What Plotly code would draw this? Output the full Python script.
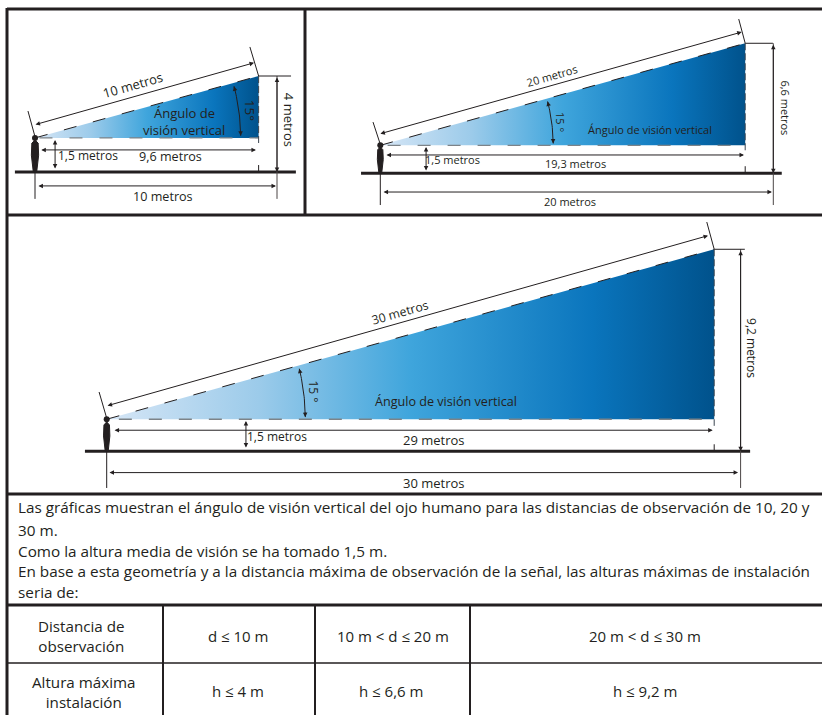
import math
import plotly.graph_objects as go

W, H = 822, 715
FONT = "Open Sans"
INK = "#231f20"

# --- diagram values, in metres, one entry per panel (10, 20 and 30 m) ---
EYE_HEIGHT = [1.42, 1.42, 1.46]
APEX_X = [9.24, 18.57, 28.75]
APEX_Y = [4.0, 6.6, 9.2]
GROUND_X0 = [-0.83, -0.98, -1.03]
GROUND_X1 = [10.78, 20.43, 30.45]
TOTAL_DIST = [10.0, 20.0, 30.0]
ARC_RADIUS = [8.5, 8.8, 9.4]
# sloped dimension line
SLOPE_START = [(-0.04, 1.96), (-0.07, 1.99), (-0.03, 2.06)]
SLOPE_END = [(9.05, 4.55), (18.39, 7.17), (28.46, 9.82)]
SLOPE_TICK0 = [(-0.29, 2.54), (-0.37, 2.60), (-0.36, 2.70)]
SLOPE_TICK1 = [(8.88, 5.21), (18.24, 7.83), (28.40, 10.44)]
# horizontal dimension lines: (height, from, to)
INNER_DIM = [(0.92, 0.20, 9.13), (0.93, 0.24, 18.51), (0.96, 0.30, 28.68)]
TOTAL_DIM = [(-0.58, 0.08, 9.96), (-0.95, 0.09, 19.93), (-0.97, 0.06, 29.88)]
# eye-height dimension line: (x, from, to)
EYE_DIM = [(0.83, 0.08, 1.33), (2.33, 0.07, 1.34), (6.59, 0.10, 1.38)]
DROP_BELOW = [-1.12, -1.61, -1.67]
TOP_EXT = [10.58, 19.98, 30.2]
DROP_GAP = [(1.08, 0.29), (1.18, 0.36), (1.05, 0.32)]

# panel scale: pixel position of the origin and pixels per metre
ORIGIN_X = [35.0, 380.3, 106.7]
GROUND_Y = [172.0, 173.3, 451.3]
PX_PER_M_X = [24.2, 19.65, 21.13]
PX_PER_M_Y = [24.0, 19.7, 21.96]

# silhouette relative to the eye, in metres
BODY_DX = [0.0, 0.13, 0.15, 0.07, -0.07, -0.15, -0.13, 0.0]
BODY_Y = [1.34, 1.20, 0.70, 0.0, 0.0, 0.70, 1.20, 1.34]

# text: (label, x, y, rotation, size)
LABELS = [
    [("10 metros", 4.05, 3.63, -16, 13), ("Ángulo de", 6.16, 2.46, 0, 13),
     ("visión vertical", 6.16, 1.75, 0, 13), ("15°", 8.9, 2.58, 90, 13.5),
     ("4 metros", 10.5, 2.17, 90, 13), ("1,5 metros", 2.19, 0.67, 0, 12),
     ("9,6 metros", 5.58, 0.63, 0, 12.6), ("10 metros", 5.29, -1.04, 0, 12.6)],
    [("20 metros", 8.74, 4.94, -16, 11), ("15 °", 9.2, 2.6, 90, 11),
     ("Ángulo de visión vertical", 13.73, 2.2, 0, 11), ("6,6 metros", 20.63, 3.31, 90, 11),
     ("1,5 metros", 3.68, 0.68, 0, 11), ("19,3 metros", 9.94, 0.52, 0, 11),
     ("20 metros", 9.65, -1.41, 0, 11)],
    [("30 metros", 13.88, 6.3, -16, 12.3), ("15 °", 9.78, 2.71, 90, 12),
     ("Ángulo de visión vertical", 16.06, 2.25, 0, 12.6), ("1,5 metros", 8.06, 0.66, 0, 12),
     ("29 metros", 15.49, 0.53, 0, 13), ("30 metros", 15.49, -1.44, 0, 13),
     ("9,2 metros", 30.54, 4.7, 90, 12)],
]

PARAGRAPH = [
    "Las gráficas muestran el ángulo de visión vertical del ojo humano para las distancias de observación de 10, 20 y",
    "30 m.",
    "Como la altura media de visión se ha tomado 1,5 m.",
    "En base a esta geometría y a la distancia máxima de observación de la señal, las alturas máximas de instalación",
    "seria de:",
]
ROW_HEADERS = ["Distancia de<br>observación", "Altura máxima<br>instalación"]
DISTANCE_ROW = ["d ≤ 10 m", "10 m < d ≤ 20 m", "20 m < d ≤ 30 m"]
HEIGHT_ROW = ["h ≤ 4 m", "h ≤ 6,6 m", "h ≤ 9,2 m"]

GRADIENT = [[0, "#d6e6f6"], [0.25, "#9ccbea"], [0.5, "#3fa5dc"], [0.8, "#0a75bd"], [1, "#00528c"]]

fig = go.Figure()
anns = []
shapes = []


def axis_names(i):
    s = "" if i == 0 else str(i + 1)
    return "x" + s, "y" + s


def line(i, xs, ys, color=INK, width=1.0, dash="solid"):
    xa, ya = axis_names(i)
    fig.add_trace(go.Scatter(x=xs, y=ys, xaxis=xa, yaxis=ya, mode="lines", hoverinfo="skip",
                             line=dict(color=color, width=width, dash=dash), showlegend=False))


def arrow(i, p0, p1, both=True, size=0.9):
    xa, ya = axis_names(i)
    anns.append(dict(x=p1[0], y=p1[1], ax=p0[0], ay=p0[1], xref=xa, yref=ya, axref=xa, ayref=ya,
                     text="", showarrow=True, arrowhead=2, startarrowhead=2, arrowwidth=1,
                     arrowsize=size, startarrowsize=size, arrowcolor=INK,
                     arrowside="end+start" if both else "end", standoff=0, startstandoff=0))


for i in range(3):
    xa, ya = axis_names(i)
    eye = EYE_HEIGHT[i]
    ax, ay = APEX_X[i], APEX_Y[i]
    # gradient wedge
    fig.add_trace(go.Scatter(x=[0, ax, ax, 0], y=[eye, ay, eye, eye], xaxis=xa, yaxis=ya, mode="lines",
                             line=dict(width=0), fill="toself", hoverinfo="skip", showlegend=False,
                             fillgradient=dict(type="horizontal", colorscale=GRADIENT)))
    line(i, [0, ax], [eye, ay], width=1, dash="13px,17px")
    line(i, [ax * 0.02, ax], [eye, eye], color="#7d8388", width=1.4, dash="13px,17px")
    line(i, [ax, ax], [ay, eye - 0.3], color="#3c4650", width=1, dash="7px,3px")
    line(i, [ax, ax], [DROP_GAP[i][1], 0], width=1)
    # ground
    line(i, [GROUND_X0[i], GROUND_X1[i]], [0, 0], width=3)
    # extension lines
    d = TOTAL_DIST[i]
    line(i, [0, 0], [0, DROP_BELOW[i]], width=1)
    line(i, [d, d], [ay, DROP_BELOW[i]], color="#4a4545", width=1)
    line(i, [ax, TOP_EXT[i]], [ay, ay], width=1)
    line(i, [SLOPE_TICK0[i][0], 0], [SLOPE_TICK0[i][1], eye + 0.05], width=1)
    line(i, [SLOPE_TICK1[i][0], ax], [SLOPE_TICK1[i][1], ay], width=1)
    # dimension arrows
    arrow(i, SLOPE_START[i], SLOPE_END[i])
    h, a, b = INNER_DIM[i]
    arrow(i, (a, h), (b, h))
    h, a, b = TOTAL_DIM[i]
    arrow(i, (a, h), (b, h))
    x, a, b = EYE_DIM[i]
    arrow(i, (x, a), (x, b))
    arrow(i, (d, ay), (d, 0))
    # 15 degree arc, drawn around the eye
    r = ARC_RADIUS[i]
    top = math.atan2(ay - eye, ax)
    n = 24
    angles = [top * (0.04 + 0.9 * k / n) for k in range(n + 1)]
    arc_x = [r * math.cos(t) for t in angles]
    arc_y = [eye + r * math.sin(t) for t in angles]
    line(i, arc_x, arc_y, width=1)
    arrow(i, (arc_x[3], arc_y[3]), (arc_x[0], arc_y[0]), both=False)
    arrow(i, (arc_x[-4], arc_y[-4]), (arc_x[-1], arc_y[-1]), both=False)
    # person
    fig.add_trace(go.Scatter(x=BODY_DX, y=BODY_Y, xaxis=xa, yaxis=ya, mode="lines", fill="toself",
                             fillcolor=INK, line=dict(color=INK, width=1), hoverinfo="skip",
                             showlegend=False))
    fig.add_trace(go.Scatter(x=[0], y=[eye], xaxis=xa, yaxis=ya, mode="markers", hoverinfo="skip",
                             marker=dict(color=INK, size=6), showlegend=False))
    # labels
    for text, x, y, rot, size in LABELS[i]:
        anns.append(dict(x=x, y=y, xref=xa, yref=ya, text=text, showarrow=False, textangle=rot,
                         font=dict(family=FONT, size=size, color=INK), xanchor="center", yanchor="middle"))

# panel axes: each covers the whole page in its own metres
layout_axes = {}
for i in range(3):
    s = "" if i == 0 else str(i + 1)
    xr = [(0 - ORIGIN_X[i]) / PX_PER_M_X[i], (W - ORIGIN_X[i]) / PX_PER_M_X[i]]
    yr = [(GROUND_Y[i] - H) / PX_PER_M_Y[i], GROUND_Y[i] / PX_PER_M_Y[i]]
    layout_axes["xaxis" + s] = dict(range=xr, domain=[0, 1], visible=False, fixedrange=True, anchor="y" + s)
    layout_axes["yaxis" + s] = dict(range=yr, domain=[0, 1], visible=False, fixedrange=True, anchor="x" + s)


def page_line(x0, y0, x1, y1, width):
    shapes.append(dict(type="line", xref="paper", yref="paper", x0=x0 / W, x1=x1 / W,
                       y0=1 - y0 / H, y1=1 - y1 / H, line=dict(color=INK, width=width)))


def page_text(text, x, y, size, anchor="center"):
    anns.append(dict(x=x / W, y=1 - y / H, xref="paper", yref="paper", text=text, showarrow=False,
                     xanchor=anchor, yanchor="middle", align=anchor,
                     font=dict(family=FONT, size=size, color=INK)))


# frames
page_line(7, 9, W, 9, 3)
page_line(7, 8, 7, H, 3)
page_line(305, 9, 305, 215, 3)
page_line(7, 215, W, 215, 3)
page_line(7, 494, W, 494, 3)
page_line(7, 605, W, 605, 3)
page_line(7, 663, W, 663, 1.5)
page_line(163, 605, 163, H, 2)
page_line(315, 605, 315, H, 2)
page_line(470, 605, 470, H, 2)

for line_text, y in zip(PARAGRAPH, [507, 530, 551, 571, 592]):
    page_text(line_text, 16, y, 15.3, "left")
page_text(ROW_HEADERS[0], 81, 636, 15.2)
page_text(ROW_HEADERS[1], 84, 692, 15.2)
for text, x in zip(DISTANCE_ROW, [238, 393, 645]):
    page_text(text, x, 636, 15)
for text, x in zip(HEIGHT_ROW, [238, 391, 645]):
    page_text(text, x, 691, 15)

fig.update_layout(width=W, height=H, margin=dict(l=0, r=0, t=0, b=0), paper_bgcolor="white",
                  plot_bgcolor="rgba(0,0,0,0)", showlegend=False, annotations=anns, shapes=shapes, **layout_axes)
fig.write_html("out.html", config={"displayModeBar": False},
               post_script="document.body.style.margin='0';document.body.style.overflow='hidden';")
